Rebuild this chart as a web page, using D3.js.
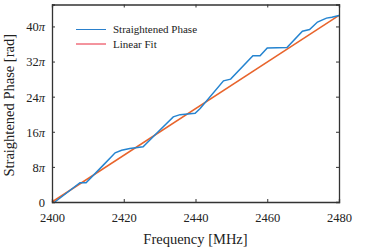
<!DOCTYPE html>
<html>
<head>
<meta charset="utf-8">
<script src="https://cdn.jsdelivr.net/npm/d3@7"></script>
<style>
  body { margin: 0; background: #fff; }
  svg text { font-family: "Liberation Serif", "DejaVu Serif", serif; fill: #222; }
</style>
</head>
<body>
<div class="canva"></div>
<script>
// frequency points (MHz) and straightened phase (in units of pi)
const freq = [2400.8, 2407.8, 2409.5, 2414.3, 2417.6, 2419.4, 2421.7, 2425.4, 2429.6,
  2433.8, 2435.7, 2439.9, 2441.3, 2447.8, 2449.8, 2456, 2458, 2460, 2465.5,
  2469.8, 2471.8, 2474, 2476.5, 2478, 2480];
const phase = [0, 4.4, 4.4, 8.4, 11.2, 11.8, 12.2, 12.6, 16,
  19.4, 19.9, 20.2, 21.3, 27.6, 28, 33.3, 33.3, 35.1, 35.2,
  38.9, 39.3, 41, 41.9, 42.1, 42.5];

// linear fit end points
const fitFreq = [2400, 2480];
const fitPhase = [0, 42.5];

const xTicks = [2400, 2420, 2440, 2460, 2480];
const yTicks = [0, 8, 16, 24, 32, 40];

const serif = '"Liberation Serif", "Times New Roman", serif';

const width = 374, height = 249;
const margin = {top: 4.5, right: 35, bottom: 47, left: 52};
const graphWidth = width - margin.left - margin.right;
const graphHeight = height - margin.top - margin.bottom;

const svg = d3.select('.canva').append('svg')
    .attr('width', width)
    .attr('height', height)
    .attr('font-family', serif);

const graph = svg.append('g')
    .attr('transform', `translate(${margin.left}, ${margin.top})`);

const x = d3.scaleLinear().domain([2400, 2480]).range([0, graphWidth]);
const y = d3.scaleLinear().domain([0, 45]).range([graphHeight, 0]);

const line = d3.line()
    .x(d => x(d[0]))
    .y(d => y(d[1]));

// data lines
graph.append('path')
    .datum(fitFreq.map((f, i) => [f, fitPhase[i]]))
    .attr('d', line)
    .attr('fill', 'none')
    .attr('stroke', '#e8642c')
    .attr('stroke-width', 1.5);

graph.append('path')
    .datum(freq.map((f, i) => [f, phase[i]]))
    .attr('d', line)
    .attr('fill', 'none')
    .attr('stroke', '#2584d0')
    .attr('stroke-width', 1.5);

// axes, ticks inward on all four sides
const piLabel = (g, v) => {
  if (v === 0) { g.text('0'); return; }
  g.append('tspan').text(v);
  g.append('tspan').attr('font-style', 'italic').text('π');
};

const axBottom = graph.append('g')
    .attr('transform', `translate(0, ${graphHeight})`)
    .call(d3.axisBottom(x).tickValues(xTicks).tickSize(-3).tickPadding(11).tickFormat(d3.format('d')));
const axTop = graph.append('g')
    .call(d3.axisTop(x).tickValues(xTicks).tickSize(-3).tickFormat(''));
const axLeft = graph.append('g')
    .call(d3.axisLeft(y).tickValues(yTicks).tickSize(-3).tickPadding(7).tickFormat(''));
const axRight = graph.append('g')
    .attr('transform', `translate(${graphWidth}, 0)`)
    .call(d3.axisRight(y).tickValues(yTicks).tickSize(-3).tickFormat(''));

[axBottom, axTop, axLeft, axRight].forEach(a => {
  a.attr('font-family', serif);
  a.select('.domain').attr('stroke', '#333').attr('stroke-width', 1.3);
  a.selectAll('.tick line').attr('stroke', '#333').attr('stroke-width', 1);
});

axBottom.selectAll('.tick text')
    .attr('font-size', 12.5)
    .attr('fill', '#222');

axLeft.selectAll('.tick text')
    .attr('font-size', 12.5)
    .attr('fill', '#222')
    .attr('dy', '0.35em')
    .each(function(d) { piLabel(d3.select(this), d); });

// axis titles
svg.append('text')
    .attr('x', margin.left + graphWidth / 2)
    .attr('y', 244)
    .attr('text-anchor', 'middle')
    .attr('font-size', 14.5)
    .text('Frequency [MHz]');

svg.append('text')
    .attr('transform', `translate(14, ${margin.top + graphHeight / 2 + 2}) rotate(-90)`)
    .attr('text-anchor', 'middle')
    .attr('font-size', 14.5)
    .text('Straightened Phase [rad]');

// legend
const legendItems = ['Straightened Phase', 'Linear Fit'];
const legendColors = ['#2a80cc', '#e8283c'];
const legend = svg.append('g');
legendItems.forEach((name, i) => {
  const ly = 29.5 + i * 14.5;
  legend.append('line')
      .attr('x1', 76).attr('x2', 106)
      .attr('y1', ly).attr('y2', ly)
      .attr('stroke', legendColors[i])
      .attr('stroke-width', 1);
  legend.append('text')
      .attr('x', 113)
      .attr('y', ly)
      .attr('dy', '0.35em')
      .attr('font-size', 11)
      .text(name);
});
</script>
</body>
</html>
